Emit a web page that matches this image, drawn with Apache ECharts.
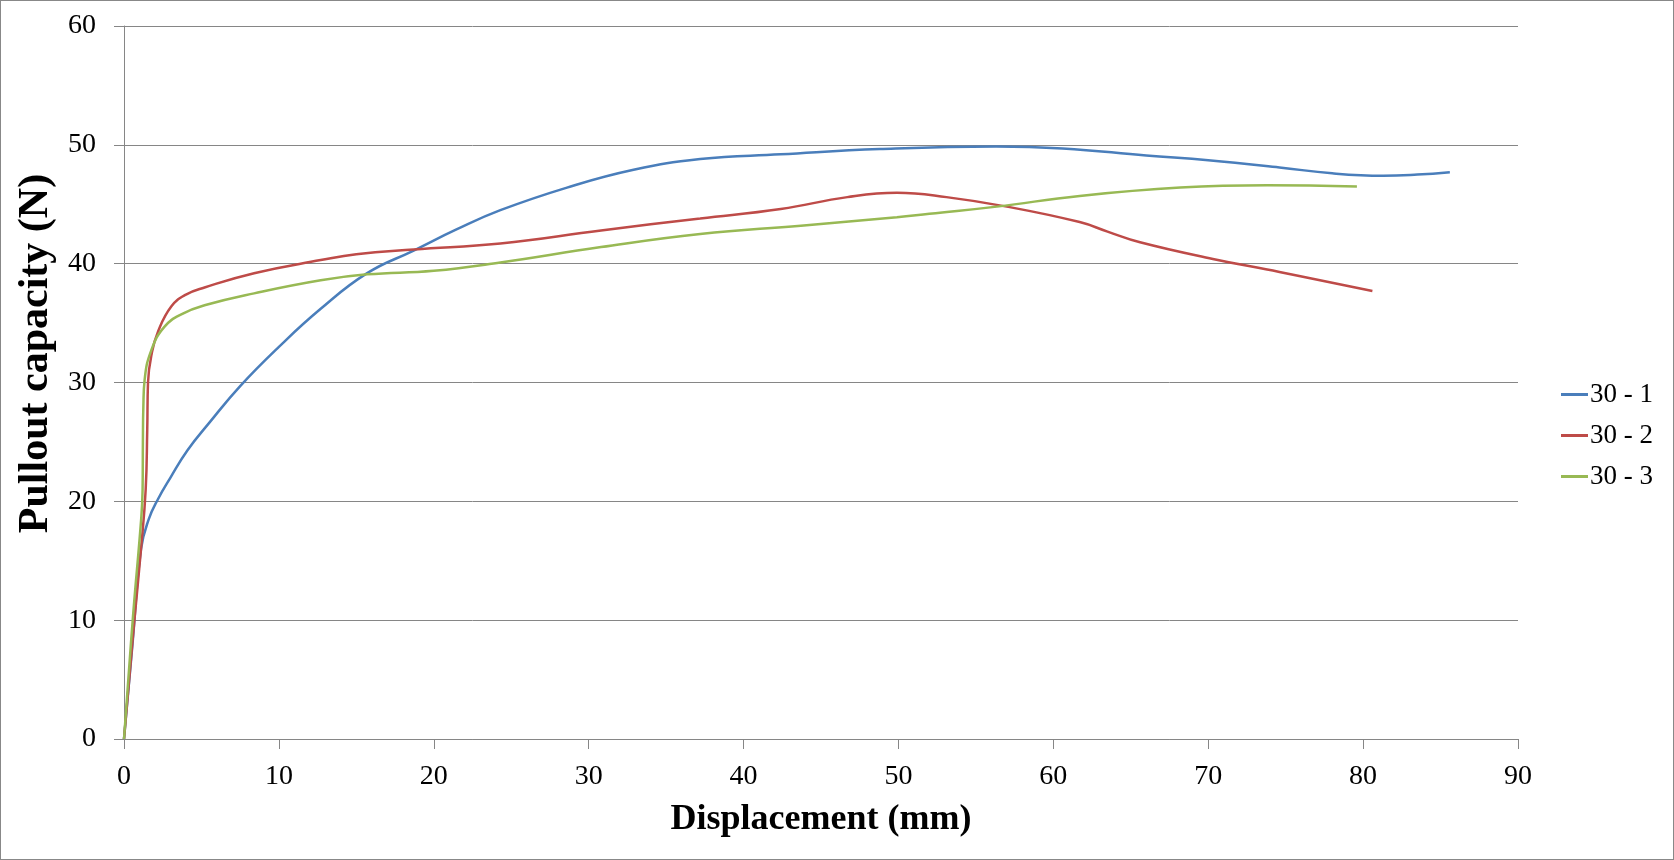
<!DOCTYPE html>
<html>
<head>
<meta charset="utf-8">
<script src="https://cdn.jsdelivr.net/npm/echarts@6/dist/echarts.min.js"></script>
<style>
  html, body { margin: 0; padding: 0; background: #fff; }
  #chart { width: 1674px; height: 860px; box-sizing: border-box; border: 1px solid #888; }
</style>
</head>
<body>
<div id="chart"></div>
<script>
// (displacement mm, pullout N)
const seriesNames = ['30 - 1', '30 - 2', '30 - 3'];

const disp1 = [0, 0.55, 1.1, 1.6, 2.2, 3, 4.1, 5.5, 7.5, 10, 12.7, 15.7, 18.7, 21.5, 24.3, 28.6, 32.9, 37.2, 42.4, 48.8, 56.3, 60.6, 66, 70, 74.6, 78, 81.3, 83.5, 85.6];
const load1 = [0, 8, 16, 18.5, 20.2, 22, 24.3, 26.6, 29.7, 33, 36.2, 39.2, 41.1, 42.9, 44.5, 46.4, 47.9, 48.8, 49.2, 49.65, 49.87, 49.7, 49.1, 48.7, 48.1, 47.6, 47.4, 47.5, 47.7];

const disp2 = [0, 0.68, 1.1, 1.4, 1.5, 1.55, 1.8, 2.2, 3.05, 4, 5.2, 8.4, 12.7, 15, 18.7, 24.3, 30.8, 37.2, 42.4, 46.7, 49.9, 53.1, 57, 61.7, 63.5, 65.6, 70.3, 74.6, 80.6];
const load2 = [0, 10.1, 16, 21, 26, 30, 32.5, 34.3, 36.4, 37.4, 38.0, 39.2, 40.3, 40.8, 41.2, 41.7, 42.8, 43.8, 44.6, 45.6, 45.96, 45.6, 44.8, 43.5, 42.7, 41.8, 40.4, 39.3, 37.7];

const disp3 = [0, 0.58, 1.12, 1.2, 1.22, 1.25, 1.33, 1.76, 2.62, 3.8, 5.2, 8.4, 12.7, 15.7, 20, 24.3, 30.8, 37.2, 43.7, 49.9, 52, 56.35, 61.7, 68.2, 73.8, 79.6];
const load3 = [0, 10.3, 18.7, 21, 25, 28, 30.2, 32.7, 34.7, 35.8, 36.5, 37.5, 38.6, 39.1, 39.4, 40.1, 41.4, 42.5, 43.2, 43.9, 44.2, 44.8, 45.7, 46.4, 46.6, 46.5];

const xTicks = [0, 10, 20, 30, 40, 50, 60, 70, 80, 90];
const yTicks = [0, 10, 20, 30, 40, 50, 60];

const colors = ['#4A7EBB', '#BE4B48', '#98B954'];
const font = "'Liberation Serif', 'Times New Roman', serif";

function pairs(xs, ys) {
  return xs.map((x, i) => [x, ys[i]]);
}

const chart = echarts.init(document.getElementById('chart'));
chart.setOption({
  animation: false,
  color: colors,
  textStyle: { fontFamily: font },
  grid: { left: 123, right: 155, top: 25, bottom: 120 },
  legend: {
    orient: 'vertical',
    left: 1555,
    top: 375,
    icon: 'rect',
    itemWidth: 27,
    itemHeight: 3,
    itemGap: 14,
    textStyle: { fontFamily: font, fontSize: 27, color: '#000', padding: [0, 0, 0, -3] },
    data: seriesNames
  },
  xAxis: {
    type: 'value',
    min: xTicks[0],
    max: xTicks[xTicks.length - 1],
    interval: 10,
    name: 'Displacement (mm)',
    nameLocation: 'middle',
    nameGap: 63,
    nameTextStyle: { fontFamily: font, fontSize: 36, fontWeight: 'bold', color: '#000' },
    axisLine: { lineStyle: { color: '#868686', width: 1 } },
    axisTick: { show: true, length: 10, lineStyle: { color: '#868686' } },
    axisLabel: { fontFamily: font, fontSize: 28, color: '#000', margin: 24 },
    splitLine: { show: false }
  },
  yAxis: {
    type: 'value',
    min: yTicks[0],
    max: yTicks[yTicks.length - 1],
    interval: 10,
    name: 'Pullout capacity (N)',
    nameLocation: 'middle',
    nameGap: 60,
    nameTextStyle: {
      fontFamily: font, fontSize: 42, fontWeight: 'bold', color: '#000',
      padding: [0, 0, 0, 58]
    },
    axisLine: { show: true, lineStyle: { color: '#868686', width: 1 } },
    axisTick: { show: true, length: 10, lineStyle: { color: '#868686' } },
    axisLabel: { fontFamily: font, fontSize: 28, color: '#000', margin: 28 },
    splitLine: { show: true, lineStyle: { color: '#868686', width: 1 } }
  },
  series: [
    { name: seriesNames[0], type: 'line', data: pairs(disp1, load1) },
    { name: seriesNames[1], type: 'line', data: pairs(disp2, load2) },
    { name: seriesNames[2], type: 'line', data: pairs(disp3, load3) }
  ].map(s => Object.assign(s, {
    smooth: 0.45,
    symbol: 'none',
    lineStyle: { width: 2.5 }
  }))
});
</script>
</body>
</html>
